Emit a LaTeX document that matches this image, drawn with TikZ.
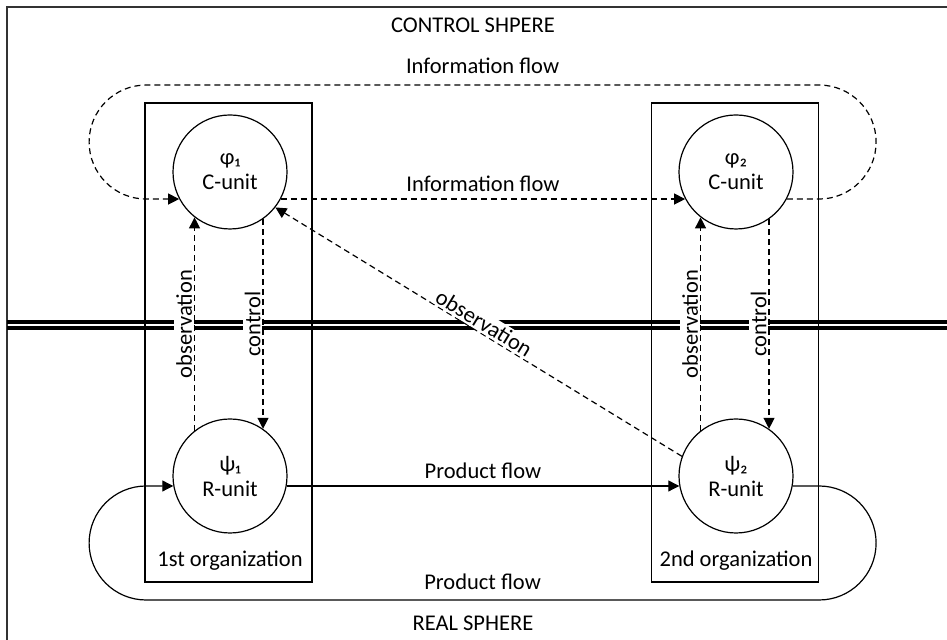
\documentclass[tikz,border=0pt]{standalone}
\usepackage{fontspec}
\setmainfont{Carlito}
\usetikzlibrary{arrows.meta}

\begin{document}
\begin{tikzpicture}[x=0.5pt,y=0.5pt,line width=0.6pt,
  font=\fontsize{11.25}{12.5}\selectfont,
  unit/.style={circle,draw,fill=white,minimum size=57pt,inner sep=0pt,align=center},
  orgbox/.style={draw,minimum width=83.5pt,minimum height=239.5pt,inner sep=0pt},
  tip/.style={-{Triangle[length=5.5pt,width=5.5pt]}},
  info/.style={tip,dash pattern=on 3pt off 2pt},
  lbl/.style={fill=white,inner sep=1pt}]
\useasboundingbox (0,0) rectangle (947,640);
\draw[line width=1pt,black!80] (947,633) -- (7,633) -- (7,0); % frame
% organizations
\node[orgbox] (b1) at (228.5,297.5) {};
\node[orgbox] (b2) at (735,297.5) {};
\node (org1) at (230,79) {1st organization};
\node (org2) at (736,79) {2nd organization};
% border of the spheres
\draw[line width=1.75pt] (7,318) -- (947,318);
\draw[line width=1.75pt] (7,312) -- (947,312);
\node (ctrl) at (473,615) {CONTROL SHPERE};
\node (real) at (473,17) {REAL SPHERE};
% units
\node[unit] (c1) at (230,468) {φ₁\\C-unit};
\node[unit] (c2) at (736,468) {φ₂\\C-unit};
\node[unit] (r1) at (230,164) {ψ₁\\R-unit};
\node[unit] (r2) at (736,164) {ψ₂\\R-unit};
% information flows
\draw[info] (c1.-28) -- node[above] {Information flow} (c2.208);
\draw[info] (c2.-28) -- (c2.-28 -| b2.east) arc[start angle=-90,end angle=90,radius=28.5pt]
  -- ++(-673,0) node[midway,above=2pt] {Information flow}
  arc[start angle=90,end angle=270,radius=28.5pt] -- (c1.208);
% observation and control
\draw[info] (r1.128) -- node[lbl,rotate=90,anchor=south] {observation} (c1.232);
\draw[info] (c1.-55) -- node[lbl,rotate=90,anchor=south] {control} (r1.55);
\draw[info] (r2.128) -- node[lbl,rotate=90,anchor=south] {observation} (c2.232);
\draw[info] (c2.-55) -- node[lbl,rotate=90,anchor=south] {control} (r2.55);
\draw[info] (r2.160) -- node[lbl,sloped,above] {observation} (c1.-38);
% product flows
\draw[tip] (r1.-10) -- node[above] {Product flow} (r2.190);
\draw[tip] (r2.-10) -- (r2.-10 -| b2.east) arc[start angle=90,end angle=-90,radius=28.5pt]
  -- ++(-673,0) node[midway,above=1.5pt] {Product flow}
  arc[start angle=270,end angle=90,radius=28.5pt] -- (r1.190);
\end{tikzpicture}
\end{document}
